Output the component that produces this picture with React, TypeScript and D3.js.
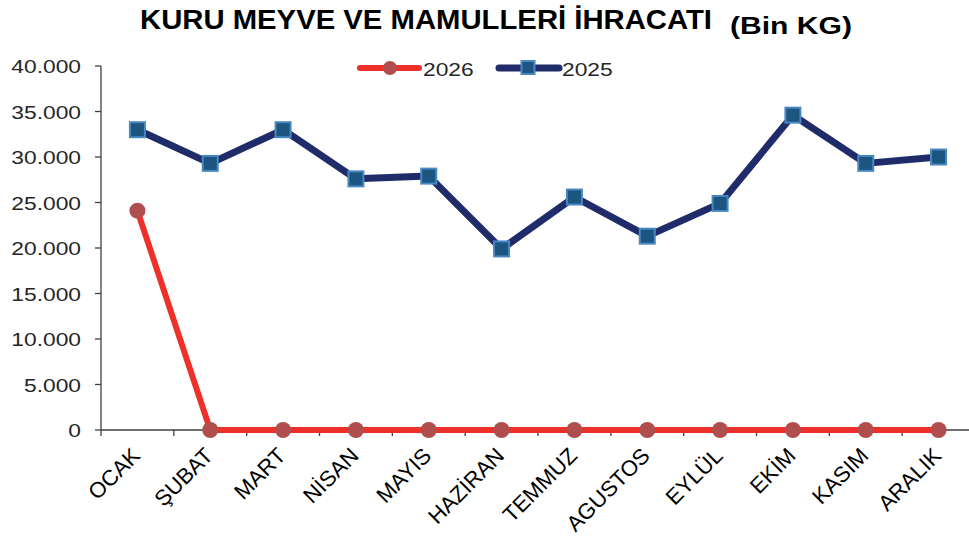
import React from 'react';
import * as d3 from 'd3';

const months = ['OCAK', 'ŞUBAT', 'MART', 'NİSAN', 'MAYIS', 'HAZİRAN', 'TEMMUZ', 'AGUSTOS', 'EYLÜL', 'EKİM', 'KASIM', 'ARALIK'];
const values2026 = [24100, 0, 0, 0, 0, 0, 0, 0, 0, 0, 0, 0];
const values2025 = [33000, 29300, 33000, 27600, 27900, 19900, 25600, 21300, 24900, 34600, 29300, 30000];
const yTicks = [0, 5000, 10000, 15000, 20000, 25000, 30000, 35000, 40000];

const W = 969;
const H = 543;
const left = 101;
const right = 975;
const top = 66;
const bottom = 430;

const fmt = (v: number) => (v === 0 ? '0' : d3.format(',')(v).replace(/,/g, '.'));

export default function App() {
  const x = d3.scaleBand<string>().domain(months).range([left, right]);
  const y = d3.scaleLinear().domain([0, 40000]).range([bottom, top]);
  const cx = (m: string) => (x(m) as number) + x.bandwidth() / 2;

  const line = d3.line<number>()
    .x((_, i) => cx(months[i]))
    .y(d => y(d));

  const font = 'Liberation Sans, Arial, sans-serif';
  const axisColor = '#404040';

  return (
    <svg width={W} height={H} style={{ position: 'absolute', left: 0, top: 0, background: '#fff' }}>
      {/* title */}
      <text x={140} y={29} fontFamily={font} fontWeight="bold" fontSize={27} fill="#000"
        textLength={572} lengthAdjust="spacingAndGlyphs">
        KURU MEYVE VE MAMULLERİ İHRACATI
      </text>
      <text x={730} y={34} fontFamily={font} fontWeight="bold" fontSize={23} fill="#000"
        textLength={122} lengthAdjust="spacingAndGlyphs">
        (Bin KG)
      </text>

      {/* y axis */}
      <line x1={left} x2={left} y1={top} y2={bottom} stroke={axisColor} strokeWidth={1.3} />
      {yTicks.map(t => (
        <g key={t}>
          <line x1={left - 6} x2={left} y1={y(t)} y2={y(t)} stroke={axisColor} strokeWidth={1.3} />
          <text transform={`translate(${left - 20},${y(t) + 7}) scale(1.2,1)`} textAnchor="end"
            fontFamily={font} fontSize={19} fill="#262626">{fmt(t)}</text>
        </g>
      ))}

      {/* x axis */}
      <line x1={left} x2={right} y1={bottom} y2={bottom} stroke={axisColor} strokeWidth={1.3} />
      {months.map((m, i) => (
        <line key={m} x1={left + i * x.bandwidth()} x2={left + i * x.bandwidth()} y1={bottom} y2={bottom + 6}
          stroke={axisColor} strokeWidth={1.3} />
      ))}
      {months.map(m => (
        <text key={m} transform={`translate(${cx(m) + 4},${bottom + 27}) rotate(-45)`} textAnchor="end"
          fontFamily={font} fontSize={22} fill="#000">{m}</text>
      ))}

      {/* 2025 */}
      <path d={line(values2025) as string} fill="none" stroke="#1F2C69" strokeWidth={7} strokeLinejoin="round" />
      {values2025.map((v, i) => (
        <rect key={i} x={cx(months[i]) - 7.5} y={y(v) - 7.5} width={15} height={15} fill="#1C5580" stroke="#4A88C2" strokeWidth={2} />
      ))}

      {/* 2026 */}
      <path d={line(values2026) as string} fill="none" stroke="#EE302A" strokeWidth={6} strokeLinejoin="round" />
      {values2026.map((v, i) => (
        <circle key={i} cx={cx(months[i])} cy={y(v)} r={8} fill="#B04E4E" />
      ))}

      {/* legend */}
      <line x1={360} x2={419} y1={68} y2={68} stroke="#EE302A" strokeWidth={6} strokeLinecap="round" />
      <circle cx={390} cy={68} r={7} fill="#B04E4E" />
      <text transform="translate(423,76) scale(1.2,1)" fontFamily={font} fontSize={19} fill="#262626">2026</text>
      <line x1={499} x2={559} y1={68} y2={68} stroke="#1F2C69" strokeWidth={7} strokeLinecap="round" />
      <rect x={521.5} y={61} width={13} height={13} fill="#1C5580" stroke="#4A88C2" strokeWidth={2} />
      <text transform="translate(562,76) scale(1.2,1)" fontFamily={font} fontSize={19} fill="#262626">2025</text>
    </svg>
  );
}
